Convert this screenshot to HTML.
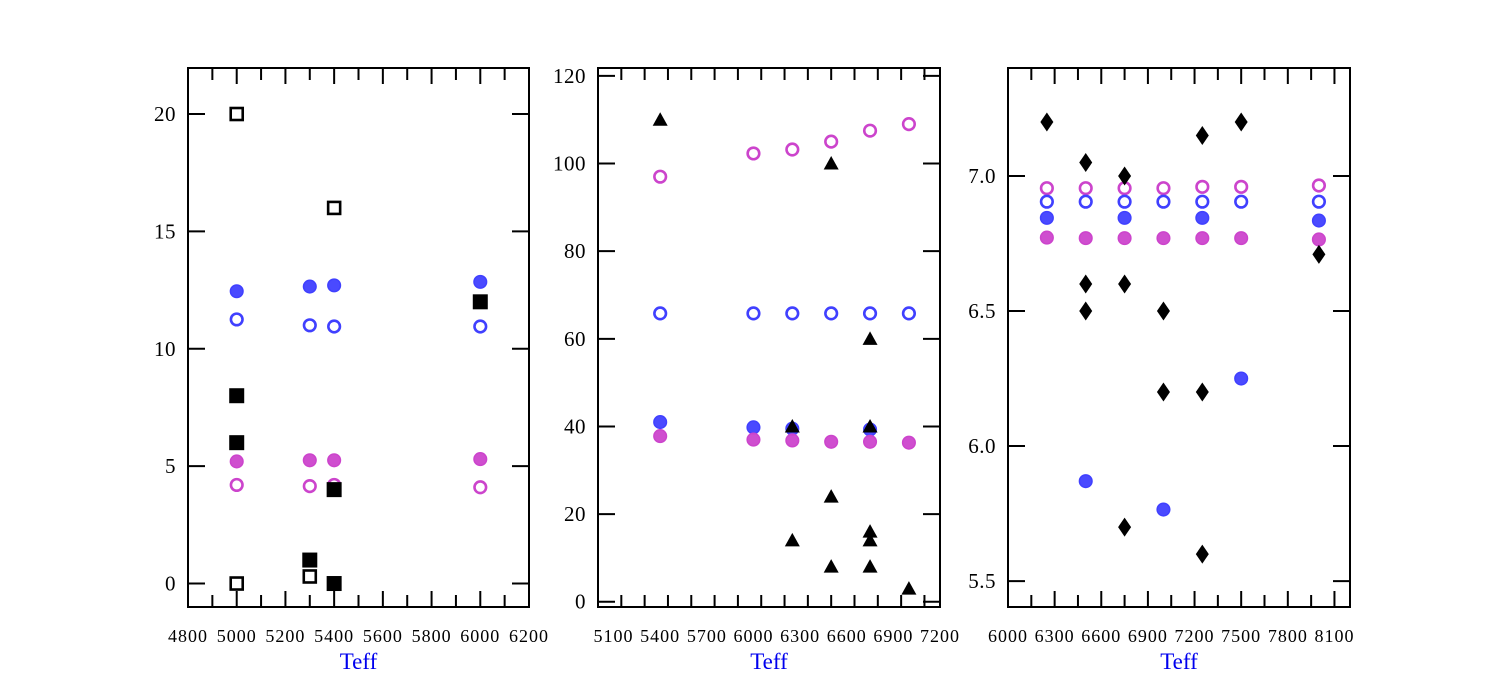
<!DOCTYPE html>
<html><head><meta charset="utf-8">
<style>
body{margin:0;background:#fff;}
svg{display:block;font-family:"Liberation Serif",serif;}
</style></head>
<body>
<svg id="chart" width="1500" height="675" viewBox="0 0 1500 675" xmlns="http://www.w3.org/2000/svg"></svg>
<script>
// Panel 1 data
const p1OpenSqX=[5000,5000,5300,5400];
const p1OpenSqY=[20,0,0.3,16];
const p1FillSqX=[5000,5000,5300,5400,5400,6000];
const p1FillSqY=[8,6,1,4,0,12];
const p1CircX=[5000,5300,5400,6000];
const p1BlueFill=[12.45,12.65,12.7,12.85];
const p1BlueOpen=[11.25,11.0,10.95,10.95];
const p1MagFill=[5.2,5.25,5.25,5.3];
const p1MagOpen=[4.2,4.15,4.2,4.1];
// Panel 2 data
const p2CircX=[5400,6000,6250,6500,6750,7000];
const p2MagOpen=[97,102.3,103.2,105,107.5,109];
const p2BlueOpen=[65.8,65.8,65.8,65.8,65.8,65.8];
const p2MagFill=[37.8,37,36.8,36.5,36.5,36.3];
const p2BlueFillX=[5400,6000,6250,6750];
const p2BlueFill=[41,39.8,39.5,39.3];
const p2TriX=[5400,6250,6250,6500,6500,6500,6750,6750,6750,6750,6750,7000];
const p2TriY=[110,40,14,100,24,8,60,40,16,14,8,3];
// Panel 3 data
const p3CircX=[6250,6500,6750,7000,7250,7500,8000];
const p3MagOpen=[6.955,6.955,6.955,6.955,6.96,6.96,6.965];
const p3BlueOpen=[6.905,6.905,6.905,6.905,6.905,6.905,6.905];
const p3MagFill=[6.772,6.77,6.77,6.77,6.77,6.77,6.765];
const p3BlueFillX=[6250,6500,6750,7000,7250,7500,8000];
const p3BlueFill=[6.845,5.87,6.845,5.765,6.845,6.25,6.835];
const p3DiaX=[6250,6500,6500,6500,6750,6750,6750,7000,7000,7250,7250,7250,7500,8000];
const p3DiaY=[7.2,7.05,6.6,6.5,7.0,6.6,5.7,6.5,6.2,7.15,6.2,5.6,7.2,6.71];
// Tick labels
const p1XTicks=[4800,5000,5200,5400,5600,5800,6000,6200];
const p1YTicks=[0,5,10,15,20];
const p2XTicks=[5100,5400,5700,6000,6300,6600,6900,7200];
const p2YTicks=[0,20,40,60,80,100,120];
const p3XTicks=[6000,6300,6600,6900,7200,7500,7800,8100];
const p3YTicks=["5.5","6.0","6.5","7.0"];

const NS="http://www.w3.org/2000/svg";
const svg=document.getElementById('chart');
function mk(tag,attrs,parent){const e=document.createElementNS(NS,tag);for(const k in attrs)e.setAttribute(k,attrs[k]);(parent||svg).appendChild(e);return e;}
const BLUE="#4040ff",MAG="#cc44cc";

function panel(cfg){
  const g=mk('g',{});
  
  
  const sx=v=>cfg.L+(v-cfg.x0)/(cfg.x1-cfg.x0)*(cfg.R-cfg.L);
  const sy=v=>cfg.B-(v-cfg.y0)/(cfg.y1-cfg.y0)*(cfg.B-cfg.T);
  cfg.draw(g,sx,sy);
  for(let v=cfg.x0;v<=cfg.x1+1e-6;v+=cfg.minor){
    const m=((v-cfg.majBase)%cfg.major+cfg.major)%cfg.major;
    const isMaj=m<1e-6||Math.abs(m-cfg.major)<1e-6;
    const len=isMaj?16:12;const x=sx(v);
    const t1=mk('line',{x1:x,x2:x,y1:cfg.B,y2:cfg.B-len,stroke:'#000','stroke-width':2},g);
    
    const t2=mk('line',{x1:x,x2:x,y1:cfg.T,y2:cfg.T+len,stroke:'#000','stroke-width':2},g);
    
  }
  cfg.xt.forEach(v=>{
    const t=mk('text',{x:sx(v),y:642,'text-anchor':'middle','font-size':18,'letter-spacing':1},g);
    
    t.textContent=v;
  });
  cfg.yt.forEach(s=>{
    const v=parseFloat(s),y=sy(v);
    const a=mk('line',{x1:cfg.L,x2:cfg.L+17,y1:y,y2:y,stroke:'#000','stroke-width':2},g);
    
    const b=mk('line',{x1:cfg.R,x2:cfg.R-17,y1:y,y2:y,stroke:'#000','stroke-width':2},g);
    
    const t=mk('text',{x:cfg.L-12,y:y+7,'text-anchor':'end','font-size':21,'letter-spacing':0.5},g);
    
    t.textContent=s;
  });
  const fr=mk('rect',{x:cfg.L,y:cfg.T,width:cfg.R-cfg.L,height:cfg.B-cfg.T,fill:'none',stroke:'#000','stroke-width':2},g);
  
  const xl=mk('text',{x:(cfg.L+cfg.R)/2,y:669,'text-anchor':'middle','font-size':23,fill:'#0000ee'},g);
  
  xl.textContent='Teff';
}
function circ(g,xs,ys,sx,sy,col,filled,name){
  xs.forEach((x,i)=>{
    const c=mk('circle',{cx:sx(x),cy:sy(ys[i]),r:filled?6.3:5.8,fill:filled?col:'none','fill-opacity':filled?0.95:1,stroke:col,'stroke-width':filled?1.5:2.6},g);
    
  });
}
function sq(g,xs,ys,sx,sy,filled,name){
  xs.forEach((x,i)=>{
    const s=filled?15:12;
    const r=mk('rect',{x:sx(x)-s/2,y:sy(ys[i])-s/2,width:s,height:s,fill:filled?'#000':'none',stroke:'#000','stroke-width':filled?0:2.6},g);
    
  });
}
function tri(g,xs,ys,sx,sy){
  xs.forEach((x,i)=>{
    const X=sx(x),Y=sy(ys[i]);
    const p=mk('polygon',{points:`${X},${Y-7.5} ${X-7.5},${Y+6} ${X+7.5},${Y+6}`,fill:'#000'},g);
    
  });
}
function dia(g,xs,ys,sx,sy){
  xs.forEach((x,i)=>{
    const X=sx(x),Y=sy(ys[i]);
    const p=mk('polygon',{points:`${X},${Y-9.5} ${X+6.5},${Y} ${X},${Y+9.5} ${X-6.5},${Y}`,fill:'#000'},g);
    
  });
}

panel({name:'panel-1',L:188,R:529,T:68,B:607,x0:4800,x1:6200,y0:-1,y1:21.96,minor:100,major:200,majBase:4800,xt:p1XTicks,yt:p1YTicks.map(String),
  draw:(g,sx,sy)=>{
    circ(g,p1CircX,p1BlueFill,sx,sy,BLUE,true,'blue-filled-point');
    circ(g,p1CircX,p1BlueOpen,sx,sy,BLUE,false,'blue-open-point');
    circ(g,p1CircX,p1MagFill,sx,sy,MAG,true,'magenta-filled-point');
    circ(g,p1CircX,p1MagOpen,sx,sy,MAG,false,'magenta-open-point');
    sq(g,p1OpenSqX,p1OpenSqY,sx,sy,false,'open-square-point');
    sq(g,p1FillSqX,p1FillSqY,sx,sy,true,'filled-square-point');
  }});
panel({name:'panel-2',L:598,R:940,T:68,B:607,x0:5000,x1:7200,y0:-1.2,y1:121.8,minor:150,major:300,majBase:5100,xt:p2XTicks,yt:p2YTicks.map(String),
  draw:(g,sx,sy)=>{
    circ(g,p2CircX,p2MagOpen,sx,sy,MAG,false,'magenta-open-point');
    circ(g,p2CircX,p2BlueOpen,sx,sy,BLUE,false,'blue-open-point');
    circ(g,p2BlueFillX,p2BlueFill,sx,sy,BLUE,true,'blue-filled-point');
    circ(g,p2CircX,p2MagFill,sx,sy,MAG,true,'magenta-filled-point');
    tri(g,p2TriX,p2TriY,sx,sy);
  }});
panel({name:'panel-3',L:1008,R:1350,T:68,B:607,x0:6000,x1:8200,y0:5.404,y1:7.4,minor:150,major:300,majBase:6000,xt:p3XTicks,yt:p3YTicks,
  draw:(g,sx,sy)=>{
    circ(g,p3CircX,p3MagOpen,sx,sy,MAG,false,'magenta-open-point');
    circ(g,p3CircX,p3BlueOpen,sx,sy,BLUE,false,'blue-open-point');
    circ(g,p3BlueFillX,p3BlueFill,sx,sy,BLUE,true,'blue-filled-point');
    circ(g,p3CircX,p3MagFill,sx,sy,MAG,true,'magenta-filled-point');
    dia(g,p3DiaX,p3DiaY,sx,sy);
  }});
</script>
</body></html>
